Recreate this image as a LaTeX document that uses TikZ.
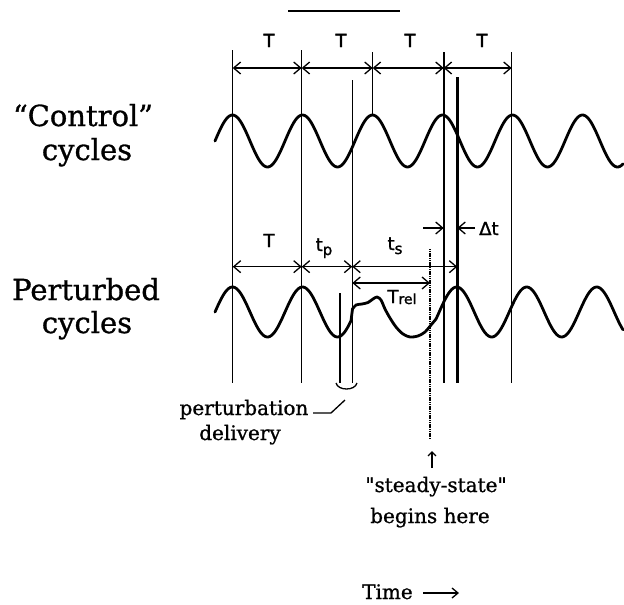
\documentclass[tikz,border=0pt]{standalone}
\usepackage{fontspec}
\setmainfont{DejaVu Serif}
\newfontfamily\heavyserif{DejaVu Serif}[FakeBold=1.0]
\newfontfamily\lblfont{DejaVu Sans}[FakeBold=1.4]
\usetikzlibrary{arrows.meta}
\tikzset{
  vline/.style={line width=1.3pt},
  vthick/.style={line width=2.4pt},
  dotline/.style={line width=2.6pt, dash pattern=on 1.2pt off 0.6pt},
  wave/.style={line width=2.8pt, line join=round, line cap=round},
  dim/.style={line width=1.3pt, {Straight Barb[length=7pt,width=12pt]}-{Straight Barb[length=7pt,width=12pt]}},
  single/.style={line width=1.3pt, -{Straight Barb[length=7pt,width=12pt]}},
  bigl/.style={font=\heavyserif\fontsize{29}{29}\selectfont, anchor=base, inner sep=0pt},
  smalll/.style={font=\heavyserif\fontsize{20}{20}\selectfont, anchor=base, inner sep=0pt},
  dimlbl/.style={font=\lblfont\fontsize{18}{18}\selectfont, anchor=base, inner sep=0pt}
}
\begin{document}
\begin{tikzpicture}[x=1pt,y=-1pt]
\useasboundingbox (0,0) rectangle (624,605);
% top bar
\coordinate (bar1) at (288,11);
\coordinate (bar2) at (400,11);
\draw[line width=2pt] (bar1) -- (bar2);
% vertical line tops
\coordinate (A) at (232.7,50);
\coordinate (B) at (301.7,50);
\coordinate (C) at (352.3,80);
\coordinate (D) at (372.7,52);
\coordinate (E) at (443.7,52);
\coordinate (F) at (457.3,77);
\coordinate (G) at (511.7,52);
\coordinate (P) at (340,293);
\coordinate (S) at (430,249);
% levels
\coordinate (bot) at (0,383);
\coordinate (Dbot) at (0,115);
\coordinate (Sbot) at (0,439);
\coordinate (r1) at (0,68);
\coordinate (r2) at (0,266.7);
\coordinate (r3) at (0,283);
\coordinate (r4) at (0,228);
% vertical lines
\draw[vline] (A) -- (A|-bot);
\draw[vline] (B) -- (B|-bot);
\draw[vline] (C) -- (C|-bot);
\draw[vline] (D) -- (D|-Dbot);
\draw[vthick] (E) -- (E|-bot);
\draw[vthick] (F) -- (F|-bot);
\draw[vline] (G) -- (G|-bot);
\draw[vline] (P) -- (P|-bot);
\draw[dotline] (S) -- (S|-Sbot);
% waves
\draw[wave] plot[domain=215:623,samples=260] (\x,{141-26*cos((\x-232.5)/70*360)});
\draw[wave] plot[domain=215:351,samples=90] (\x,{312-25*cos((\x-232.5)/70*360)})
  -- plot[smooth] coordinates {(352.5,309) (356,305) (362,304) (368,302.5) (373,299) (377,297) (381,300) (385,309) (390,318) (396,327) (403,334) (410,337) (418,336) (425,332) (431,325)}
  -- plot[domain=436:623,samples=120] (\x,{312-25*cos((\x-456.7)/70*360)});
% control dimension arrows
\draw[dim] (A|-r1) -- (B|-r1);
\draw[dim] (B|-r1) -- (D|-r1);
\draw[dim] (D|-r1) -- (E|-r1);
\draw[dim] (E|-r1) -- (G|-r1);
\node[dimlbl] (T1) at (269,47) {T};
\node[dimlbl] (T2) at (341,47) {T};
\node[dimlbl] (T3) at (410,47) {T};
\node[dimlbl] (T4) at (482,47) {T};
% perturbed dimension arrows
\draw[dim] (A|-r2) -- (B|-r2);
\draw[dim] (B|-r2) -- (C|-r2);
\draw[dim] (C|-r2) -- (F|-r2);
\draw[dim] (C|-r3) -- (S|-r3);
\coordinate (dl) at (423,228);
\coordinate (dr) at (475,228);
\draw[single] (dl) -- (E|-r4);
\draw[single] (dr) -- (F|-r4);
\node[dimlbl] (T5) at (269,247) {T};
\node[dimlbl] (tp) at (324,251) {t\raisebox{-4pt}{\fontsize{15}{15}\selectfont p}};
\node[dimlbl] (ts) at (395,250) {t\raisebox{-4pt}{\fontsize{15}{15}\selectfont s}};
\node[dimlbl] (trel) at (402,303) {T\raisebox{-1pt}{\fontsize{14}{14}\selectfont rel}};
\node[dimlbl, anchor=base west] (dt) at (479,235) {Δt};
% left labels
\node[bigl] (c1) at (83,126) {“Control”};
\node[bigl] (c2) at (87,160) {cycles};
\node[bigl] (p1) at (86,300) {Perturbed};
\node[bigl] (p2) at (87,333) {cycles};
% perturbation delivery
\coordinate (br1) at (336,383);
\coordinate (br2) at (357,383);
\draw[line width=1.3pt] (br1) .. controls (338,391) and (355,391) .. (br2);
\node[smalll] (pd1) at (244,415) {perturbation};
\node[smalll] (pd2) at (240,440) {delivery};
\coordinate (ld1) at (313,413);
\coordinate (ld2) at (331,413);
\coordinate (ld3) at (345,400);
\draw[line width=1.3pt] (ld1) -- (ld2) -- (ld3);
% steady state
\coordinate (ss1) at (432,468);
\coordinate (ss2) at (432,451);
\draw[line width=1.3pt, -{Straight Barb[length=4pt,width=8pt]}] (ss1) -- (ss2);
\node[smalll] (st1) at (436,492) {"steady-state"};
\node[smalll] (st2) at (430,523) {begins here};
% time
\node[smalll, anchor=base west] (time) at (362,599) {Time};
\coordinate (ta) at (423,593);
\coordinate (tb) at (459,593);
\draw[line width=1.3pt, -{Straight Barb[length=6pt,width=10pt]}] (ta) -- (tb);
\end{tikzpicture}
\end{document}
